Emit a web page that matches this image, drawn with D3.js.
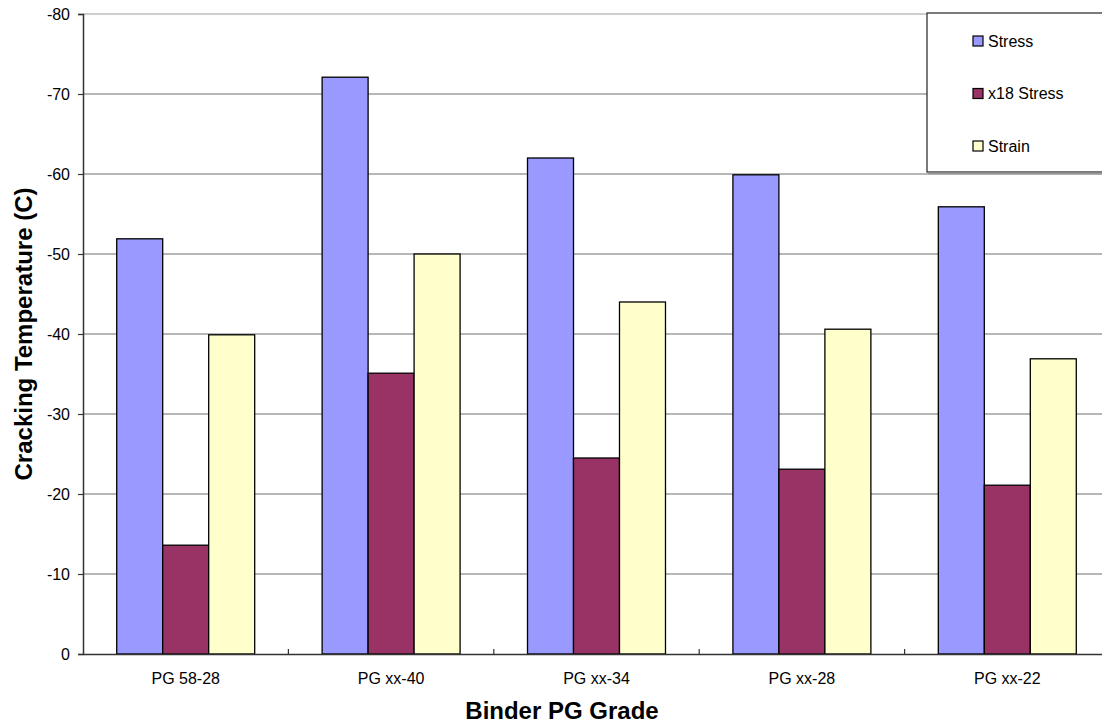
<!DOCTYPE html>
<html>
<head>
<meta charset="utf-8">
<script src="https://cdn.jsdelivr.net/npm/d3@7"></script>
<style>
  html, body { margin: 0; padding: 0; background: #fff; }
  svg { display: block; font-family: "Liberation Sans", Arial, sans-serif; }
</style>
</head>
<body>
<svg id="chart" width="1102" height="726"></svg>
<script>
const categories = ["PG 58-28", "PG xx-40", "PG xx-34", "PG xx-28", "PG xx-22"];
const seriesNames = ["Stress", "x18 Stress", "Strain"];
const stress = [-51.9, -72.1, -62.0, -59.9, -55.9];
const x18Stress = [-13.6, -35.1, -24.5, -23.1, -21.1];
const strain = [-39.9, -50.0, -44.0, -40.6, -36.9];
const yTicks = [0, -10, -20, -30, -40, -50, -60, -70, -80];
const colors = ["#9999FF", "#993366", "#FFFFCC"];

const seriesValues = [stress, x18Stress, strain];
const table = categories.map((c, i) => ({
  category: c,
  values: seriesNames.map((s, j) => ({ series: s, value: seriesValues[j][i] }))
}));

const svg = d3.select("#chart");
const plotLeft = 83, plotRight = 1110, plotTop = 14, plotBottom = 654;

const x0 = d3.scaleBand().domain(categories).range([plotLeft, plotRight]).paddingInner(0).paddingOuter(0);
const x1 = d3.scaleBand().domain(seriesNames).range([0, x0.bandwidth()]).paddingInner(0).paddingOuter(0.733);
const y = d3.scaleLinear().domain([0, -80]).range([plotBottom, plotTop]);
const color = d3.scaleOrdinal().domain(seriesNames).range(colors);

// gridlines
svg.append("g").selectAll("line").data(yTicks.filter(t => t !== 0)).join("line")
  .attr("x1", plotLeft).attr("x2", plotRight)
  .attr("y1", d => y(d)).attr("y2", d => y(d))
  .attr("stroke", d => d === -80 ? "#a0a0a0" : "#707070")
  .attr("stroke-width", 1.2);

// bars
const groups = svg.append("g").selectAll("g").data(table).join("g")
  .attr("transform", d => `translate(${x0(d.category)},0)`);
groups.selectAll("rect").data(d => d.values).join("rect")
  .attr("x", d => x1(d.series))
  .attr("width", x1.bandwidth())
  .attr("y", d => y(d.value))
  .attr("height", d => y(0) - y(d.value))
  .attr("fill", d => color(d.series))
  .attr("stroke", "#000")
  .attr("stroke-width", 1.3);

// y axis
const yAxis = svg.append("g").attr("transform", `translate(${plotLeft},0)`)
  .call(d3.axisLeft(y).tickValues(yTicks).tickSize(5).tickPadding(8).tickFormat(d => String(d)));
yAxis.select(".domain").attr("stroke", "#333").attr("stroke-width", 1.5);
yAxis.selectAll(".tick line").attr("stroke", "#333").attr("stroke-width", 1.2);
yAxis.selectAll(".tick text").attr("font-size", 16).attr("fill", "#000")
  .attr("font-family", "Liberation Sans, Arial, sans-serif");

// x axis
const xAxis = svg.append("g").attr("transform", `translate(0,${plotBottom})`)
  .call(d3.axisBottom(x0).tickSize(0).tickPadding(19));
xAxis.select(".domain").attr("stroke", "#333").attr("stroke-width", 1.5);
xAxis.selectAll(".tick text").attr("font-size", 16).attr("fill", "#000")
  .attr("font-family", "Liberation Sans, Arial, sans-serif");
// category boundary ticks (pointing up)
xAxis.append("g").selectAll("line").data(categories.slice(1)).join("line")
  .attr("x1", d => x0(d)).attr("x2", d => x0(d))
  .attr("y1", 0).attr("y2", -5)
  .attr("stroke", "#333").attr("stroke-width", 1.2);

// axis titles
svg.append("text")
  .attr("x", 562).attr("y", 719)
  .attr("text-anchor", "middle")
  .attr("font-size", 24).attr("font-weight", "bold")
  .text("Binder PG Grade");
svg.append("text")
  .attr("transform", "translate(32,334) rotate(-90)")
  .attr("text-anchor", "middle")
  .attr("font-size", 24).attr("font-weight", "bold")
  .text("Cracking Temperature (C)");

// legend
const legend = svg.append("g");
legend.append("rect")
  .attr("x", 927).attr("y", 13).attr("width", 190).attr("height", 159)
  .attr("fill", "#fff").attr("stroke", "#333").attr("stroke-width", 1.3);
legend.append("line")
  .attr("x1", 928).attr("x2", 1110).attr("y1", 173.5).attr("y2", 173.5)
  .attr("stroke", "#999").attr("stroke-width", 1.5);
const items = legend.selectAll("g.item").data(seriesNames).join("g")
  .attr("class", "item")
  .attr("transform", (d, i) => `translate(973,${41 + i * 52.5})`);
items.append("rect")
  .attr("x", 0).attr("y", -5).attr("width", 10).attr("height", 10)
  .attr("fill", d => color(d)).attr("stroke", "#000").attr("stroke-width", 1.2);
items.append("text")
  .attr("x", 15).attr("y", 5.5)
  .attr("font-size", 16)
  .text(d => d);
</script>
</body>
</html>
